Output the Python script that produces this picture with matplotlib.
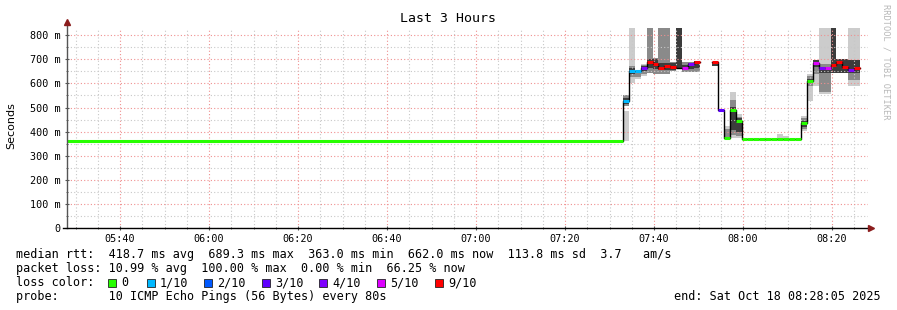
import matplotlib
matplotlib.use('Agg')
import numpy as np
import matplotlib.pyplot as plt
from matplotlib.lines import Line2D
from matplotlib.patches import Rectangle
from matplotlib.ticker import MultipleLocator, FuncFormatter

nan = np.nan

# time axis: minutes since midnight
t_start = 5 * 60 + 28 + 5 / 60      # 05:28:05
t_end = t_start + 180                # 08:28:05
step = 80 / 60                       # one probe round = 80 s
t_first = 7 * 60 + 33                # 07:33:00, first round after the flat part

base_value = 363                     # flat median before 07:33 (ms)

# median rtt per round (ms), nan = no answer
median = [528, 652, 652, 662, 690, 680, 666, 674, 668, 665,
          662, 681, 688, nan, nan, 688, 488, 373, 490, 444,
          370, 370, 370, 370, 370, 370, 370, 370, 370, 370,
          434, 609, 686, 663, 663, 677, 687, 670, 657, 662]
# lost pings per round (out of 10), nan = no colour mark
loss = [1, 1, 1, 4, 9, 9, 9, 9, 9, nan,
        5, 4, 9, nan, nan, 9, 3, 0, 0, 0,
        0, 0, 0, 0, 0, 0, 0, 0, 0, 0,
        0, 0, 5, 4, 5, 9, 9, 9, 4, 9]

# smoke bands (ms)
light_lo = [362, 601, 618, 632, nan, nan, nan, nan, nan, nan,
            nan, nan, nan, nan, nan, nan, nan, 369, 373, 373,
            nan, nan, nan, nan, nan, nan, 367, 367, nan, nan,
            402, 527, 589, 557, 557, nan, nan, nan, 590, 590]
light_hi = [485, 829, 655, 680, nan, nan, nan, nan, nan, nan,
            nan, nan, nan, nan, nan, nan, nan, 423, 564, 475,
            nan, nan, nan, nan, nan, nan, 390, 382, nan, nan,
            464, 638, 696, 829, 829, nan, nan, nan, 829, 829]
mid_lo = [505, 626, 628, 640, 645, 641, 638, 638, 650, nan,
          648, 648, 648, nan, nan, nan, nan, 375, 386, 380,
          nan, nan, nan, nan, nan, nan, nan, nan, nan, nan,
          410, 590, 640, 564, 564, nan, nan, nan, 613, 613]
mid_hi = [552, 673, 648, 676, 829, 705, 829, 829, 690, nan,
          689, 689, 695, nan, nan, nan, nan, 410, 531, 460,
          nan, nan, nan, nan, nan, nan, nan, nan, nan, nan,
          455, 630, 696, 680, 680, nan, nan, nan, 696, 696]
dark_lo = [515, 640, nan, 650, 665, 660, 655, 655, 655, 659,
           655, 660, 665, nan, nan, 674, nan, nan, 406, 400,
           nan, nan, nan, nan, nan, nan, nan, nan, nan, nan,
           420, 600, 670, 645, 645, 643, 644, 644, 643, 643]
dark_hi = [540, 665, nan, 672, 700, 703, 684, 684, 684, 829,
           675, 685, 692, nan, nan, 690, nan, nan, 503, 455,
           nan, nan, nan, nan, nan, nan, nan, nan, nan, nan,
           445, 620, 696, 670, 670, 829, 700, 700, 696, 696]

loss_keys = [0, 1, 2, 3, 4, 5, 9]
loss_labels = ['0', '1/10', '2/10', '3/10', '4/10', '5/10', '9/10']
loss_colors = ['#26ff00', '#00b8ff', '#0059ff', '#5e00ff', '#7e00ff', '#dd00ff', '#ff0000']

W, H = 897, 310
mono = 'DejaVu Sans Mono'

fig = plt.figure(figsize=(W / 100, H / 100), dpi=100)
ax = fig.add_axes([67 / W, 82 / H, 801 / W, 200 / H])
ax.set_xlim(t_start, t_end)
ax.set_ylim(0, 830)

n = len(median)
t = t_first + step * np.arange(n)

# smoke
for lo, hi, col in [(light_lo, light_hi, '#cccccc'),
                    (mid_lo, mid_hi, '#8a8a8a'),
                    (dark_lo, dark_hi, '#3c3c3c')]:
    lo = np.array(lo, float)
    hi = np.array(hi, float)
    ok = ~np.isnan(lo)
    ax.bar(t[ok], hi[ok] - lo[ok], bottom=lo[ok], width=step, align='edge',
           color=col, linewidth=0, zorder=1)

# median line (black steps)
xs = np.concatenate([[t_start], t, [t[-1] + step]])
ys = np.concatenate([[base_value], median, [median[-1]]])
ax.plot(xs, ys, drawstyle='steps-post', color='black', lw=1, zorder=3)

# loss colour marks
cmap = dict(zip(loss_keys, loss_colors))
ax.hlines(base_value, t_start, t_first, color=cmap[0], lw=2.2, zorder=4)
for i in range(n):
    if np.isnan(loss[i]) or np.isnan(median[i]):
        continue
    ax.hlines(median[i], t[i], t[i] + step, color=cmap[int(loss[i])], lw=2.2, zorder=4)

# grid
ax.xaxis.set_major_locator(MultipleLocator(20))
ax.xaxis.set_minor_locator(MultipleLocator(5))
ax.yaxis.set_major_locator(MultipleLocator(100))
ax.yaxis.set_minor_locator(MultipleLocator(50))
ax.grid(which='minor', color='#c8c8c8', lw=0.8, ls=(0, (1, 2)), zorder=5)
ax.grid(which='major', color='#f09090', lw=0.8, ls=(0, (1, 2)), zorder=5)

ax.xaxis.set_major_formatter(FuncFormatter(lambda v, p: '%02d:%02d' % (int(v) // 60, int(v) % 60)))
ax.yaxis.set_major_formatter(FuncFormatter(lambda v, p: '0' if v == 0 else '%d m' % v))
ax.tick_params(which='major', length=3, width=0.8, direction='inout', color='#555555',
               labelsize=7.3, pad=3)
ax.tick_params(which='minor', length=2, width=0.6, direction='inout', color='#555555')
for lab in ax.get_xticklabels() + ax.get_yticklabels():
    lab.set_fontfamily(mono)
for s in ax.spines.values():
    s.set_visible(False)


def fx(x):
    return x / W


def fy(y):
    return 1 - y / H


# axes with arrows
fig.add_artist(Line2D([fx(67), fx(67)], [fy(228), fy(24)], color='#555555', lw=1))
fig.add_artist(Line2D([fx(63), fx(869)], [fy(228), fy(228)], color='black', lw=1))
fig.add_artist(Line2D([fx(67)], [fy(22)], marker='^', ms=4, color='#8b1c1c', lw=0))
fig.add_artist(Line2D([fx(871)], [fy(228)], marker='>', ms=4, color='#8b1c1c', lw=0))

fig.text(fx(448), fy(19), 'Last 3 Hours', family=mono, fontsize=9.5, ha='center', va='center')
fig.text(fx(11), fy(126), 'Seconds', fontsize=8, rotation=90, ha='center', va='center')
fig.text(fx(886), fy(4), 'RRDTOOL / TOBI OETIKER', family=mono, fontsize=6.2,
         color='#b8b8b8', rotation=270, ha='center', va='top')

lines = [
    'median rtt:  418.7 ms avg  689.3 ms max  363.0 ms min  662.0 ms now  113.8 ms sd  3.7   am/s',
    'packet loss: 10.99 % avg  100.00 % max  0.00 % min  66.25 % now',
    'loss color:',
    'probe:       10 ICMP Echo Pings (56 Bytes) every 80s',
]
for j, s in enumerate(lines):
    fig.text(fx(16), fy(254.5 + 14 * j), s, family=mono, fontsize=8.5, va='center')

sq_x = [108, 147, 204, 262, 319, 377, 435]
for x, lab, col in zip(sq_x, loss_labels, loss_colors):
    fig.add_artist(Rectangle((fx(x), fy(286.5)), 8 / W, 8 / H, transform=fig.transFigure,
                             facecolor=col, edgecolor='#222222', lw=0.6))
    fig.text(fx(x + 13), fy(282.5), lab, family=mono, fontsize=8.5, va='center')

fig.text(fx(881), fy(296.5), 'end: Sat Oct 18 08:28:05 2025', family=mono, fontsize=8.5,
         ha='right', va='center')

fig.savefig('out.png', dpi=100, facecolor='white')
